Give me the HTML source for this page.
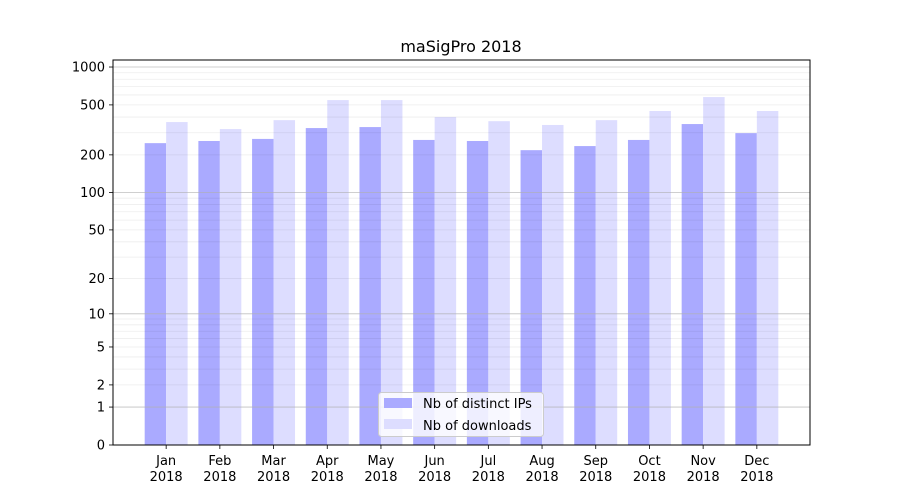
<!DOCTYPE html>
<html><head><meta charset="utf-8"><style>
body{margin:0;background:#fff;font-family:"DejaVu Sans","Liberation Sans",sans-serif;}
</style></head><body>
<svg id="c" width="900" height="500" xmlns="http://www.w3.org/2000/svg"></svg>
<script>
const months=["Jan","Feb","Mar","Apr","May","Jun","Jul","Aug","Sep","Oct","Nov","Dec"];
const ips=[248,258,268,327,333,263,258,218,235,263,352,298];
const downloads=[365,321,378,546,546,400,371,346,378,447,577,447];
const yTicks=[0,1,2,5,10,20,50,100,200,500,1000];
const NS="http://www.w3.org/2000/svg";
const svg=document.getElementById('c');
const L=113,R=810,T=60,B=445;
const yMax=Math.log10(1+1137);
function y(v){return B-Math.log10(v+1)/yMax*(B-T);}
const x0=-0.99,x1=11.99;
function x(i){return L+(i-x0)/(x1-x0)*(R-L);}
function el(t,a,txt){const e=document.createElementNS(NS,t);for(const k in a)e.setAttribute(k,a[k]);if(txt!==undefined)e.textContent=txt;svg.appendChild(e);return e;}
const bw=(x(0.4)-x(0));
months.forEach((m,i)=>{
 const b1=el('rect',{x:x(i)-bw,y:y(ips[i]),width:bw,height:B-y(ips[i]),fill:'#aaaaff'});
 
 
 const b2=el('rect',{x:x(i),y:y(downloads[i]),width:bw,height:B-y(downloads[i]),fill:'#ddddff'});
 
 
 el('line',{x1:x(i),x2:x(i),y1:B,y2:B+4,stroke:'#000','stroke-width':0.8});
 const t1=el('text',{x:x(i),y:B+20,'text-anchor':'middle','font-size':13},m);
 
 
 const t2=el('text',{x:x(i),y:B+36,'text-anchor':'middle','font-size':13},'2018');
 
 
});
for(const d of [1,10,100]){for(let m=2;m<=9;m++){const v=d*m;const g=el('line',{x1:L,x2:R,y1:y(v),y2:y(v),stroke:'#000','stroke-opacity':0.07,'stroke-width':0.8});

}}
for(const v of [1,10,100,1000]){const g=el('line',{x1:L,x2:R,y1:y(v),y2:y(v),stroke:'#b0b0b0','stroke-opacity':0.8,'stroke-width':0.8});

}
yTicks.forEach(v=>{
 el('line',{x1:L-4,x2:L,y1:y(v),y2:y(v),stroke:'#000','stroke-width':0.8});
 const t=el('text',{x:L-8,y:y(v)+4.5,'text-anchor':'end','font-size':13},String(v));
 
 
});
const fr=el('rect',{x:L,y:T,width:R-L,height:B-T,fill:'none',stroke:'#000','stroke-width':1});


const ti=el('text',{x:461,y:52,'text-anchor':'middle','font-size':16},'maSigPro 2018');


const lg=el('rect',{x:378.5,y:392.5,width:165,height:44,rx:3,fill:'#fff','fill-opacity':0.8,stroke:'#ccc'});


el('rect',{x:384,y:398,width:28,height:10,fill:'#aaaaff'});
const l1=el('text',{x:423,y:408,'font-size':13},'Nb of distinct IPs');


el('rect',{x:384,y:419,width:28,height:10,fill:'#ddddff'});
const l2=el('text',{x:423,y:430,'font-size':13},'Nb of downloads');


</script>
</body></html>
